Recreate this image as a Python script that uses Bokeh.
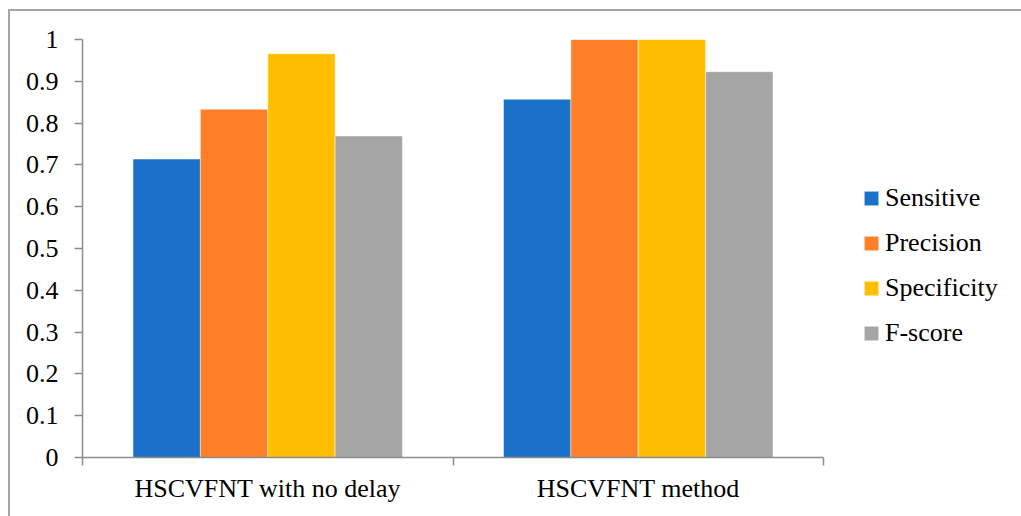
import numpy as np
from bokeh.plotting import figure
from bokeh.models import (Range1d, LinearAxis, FixedTicker, NumeralTickFormatter,
                          Legend, LegendItem, ColumnDataSource)
from bokeh.embed import file_html
from bokeh.resources import INLINE

# ---- data ----
categories = ["HSCVFNT with no delay", "HSCVFNT method"]
series_names = ["Sensitive", "Precision", "Specificity", "F-score"]
sensitive = [0.714, 0.857]
precision = [0.833, 1.0]
specificity = [0.966, 1.0]
f_score = [0.769, 0.923]
y_ticks = [0, 0.1, 0.2, 0.3, 0.4, 0.5, 0.6, 0.7, 0.8, 0.9, 1.0]

series_values = [sensitive, precision, specificity, f_score]
colors = ["#1A72C8", "#FE7F27", "#FFBF00", "#A5A5A5"]

FONT = "'Liberation Serif'"
AXIS_COLOR = "#8C8C8C"

W, H = 1013, 507
LEFT, TOP, BOTTOM = 74, 30, 59
AXIS_PX = 741          # width of the drawn category axis in pixels
frame_w = W - LEFT
ncat = len(categories)
x_end = ncat * frame_w / AXIS_PX   # extra room on the right holds the legend

p = figure(width=W, height=H, output_backend="svg", toolbar_location=None,
           x_range=Range1d(0, x_end), y_range=Range1d(0, 1),
           x_axis_type=None, y_axis_type=None,
           min_border_left=LEFT, min_border_top=TOP, min_border_right=0,
           min_border_bottom=BOTTOM)
p.margin = (9, 0, 0, 8)
p.styles = {"box-shadow": "inset 2px 2px 0 0 #A6A6A6"}
p.border_fill_color = None
p.background_fill_color = None
p.outline_line_color = None
p.xgrid.visible = False
p.ygrid.visible = False

n = len(series_names)
bar_w = 1.0 / (n + 1.5)  # 150% gap width
centers = np.arange(ncat) + 0.5
items = []
for i, (name, vals, col) in enumerate(zip(series_names, series_values, colors)):
    xs = centers + (i - (n - 1) / 2) * bar_w
    src = ColumnDataSource(dict(x=xs, top=vals))
    r = p.vbar(x="x", top="top", width=bar_w, bottom=0, source=src,
               fill_color=col, line_color="white", line_alpha=0.45, line_width=1)
    items.append(LegendItem(label=name, renderers=[r]))

# y axis
yax = LinearAxis(ticker=FixedTicker(ticks=y_ticks),
                 formatter=NumeralTickFormatter(format="0.[0]"))
yax.axis_line_color = AXIS_COLOR
yax.axis_line_width = 1.5
yax.major_tick_line_color = AXIS_COLOR
yax.major_tick_line_width = 1.5
yax.major_tick_out = 8
yax.major_tick_in = 0
yax.minor_tick_line_color = None
yax.major_label_standoff = 16
yax.major_label_text_font = FONT
yax.major_label_text_font_size = "26px"
yax.major_label_text_color = "black"
p.add_layout(yax, "left")

# x axis: labels at category centres, ticks at boundaries
xax = LinearAxis(ticker=FixedTicker(ticks=list(centers),
                                    minor_ticks=list(range(ncat + 1))),
                 bounds=(0, ncat))
xax.major_label_overrides = {float(c): lab for c, lab in zip(centers, categories)}
xax.axis_line_color = AXIS_COLOR
xax.axis_line_width = 1.5
xax.major_tick_line_color = None
xax.major_tick_out = 0
xax.major_tick_in = 0
xax.minor_tick_line_color = AXIS_COLOR
xax.minor_tick_line_width = 1.5
xax.minor_tick_out = 8
xax.minor_tick_in = 0
xax.major_label_standoff = 8
xax.major_label_text_font = FONT
xax.major_label_text_font_size = "26px"
xax.major_label_text_color = "black"
p.add_layout(xax, "below")

legend = Legend(items=items, location=(780, 109), padding=0, margin=0,
                spacing=15, label_height=30, glyph_height=18, glyph_width=18,
                label_standoff=5, label_text_font=FONT, label_text_font_size="26px",
                label_text_color="black", border_line_color=None,
                background_fill_color=None)
p.add_layout(legend, "center")

open("out.html", "w").write(file_html(p, INLINE))
